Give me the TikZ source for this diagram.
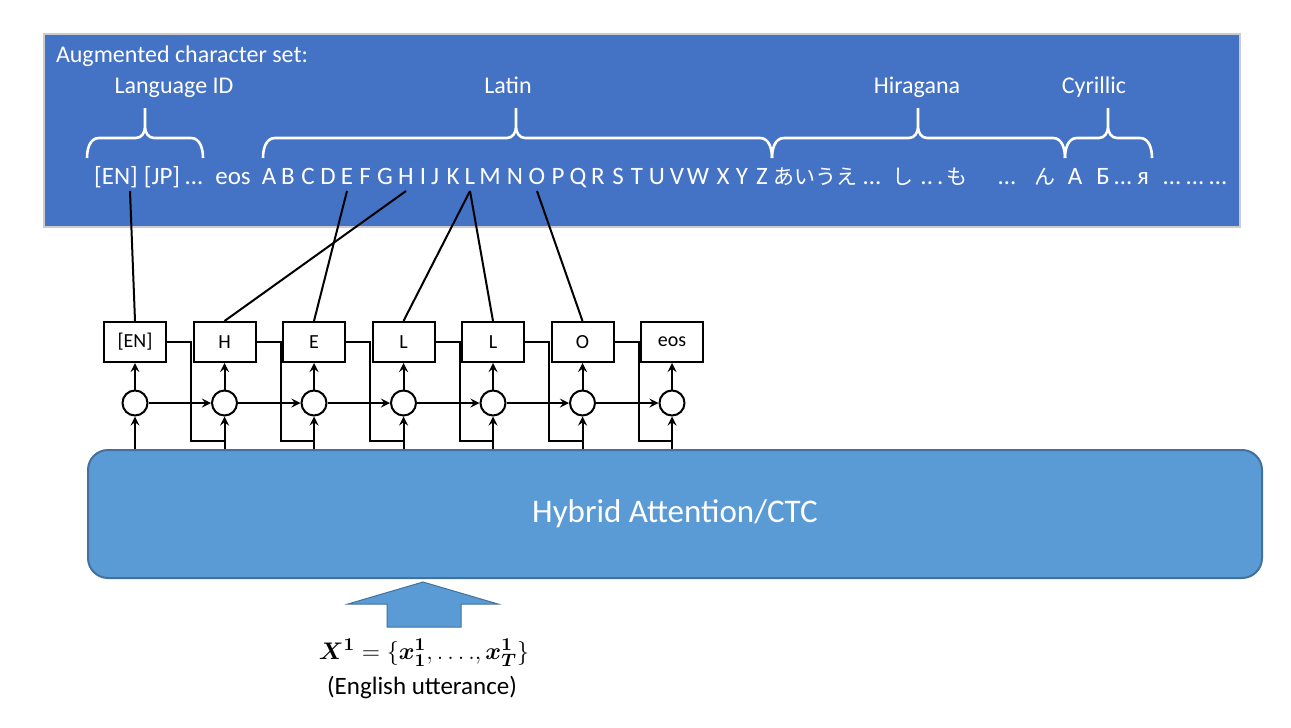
\documentclass[tikz,border=0pt]{standalone}
\usepackage{amsmath}
\usepackage{fontspec}
\setmainfont{Carlito}
\newfontfamily\jpfont{Noto Sans CJK JP}
\usetikzlibrary{calc}
\definecolor{setblue}{HTML}{4472C4}
\definecolor{encblue}{HTML}{5B9BD5}
\definecolor{encline}{HTML}{41719C}
\newcommand{\charbrace}[3]{%
  \draw[white, line width=1.3pt] (#1,-158) to[out=90,in=180] (#1+12,-138) -- (#3-9,-138) to[out=0,in=-90] (#3,-127) -- (#3,-108)
    (#3,-127) to[out=-90,in=180] (#3+9,-138) -- (#2-12,-138) to[out=0,in=90] (#2,-158);}
\newcommand{\uttform}{$\boldsymbol{X^{1}} = \{\boldsymbol{x^{1}_{1}}, \ldots., \boldsymbol{x^{1}_{T}}\}$}

\begin{document}
\begin{tikzpicture}[x=0.5pt,y=0.5pt,>=stealth,line width=1pt,
    chr/.style={text=white, font=\fontsize{12.5}{15}\selectfont, inner sep=3pt, anchor=base, text depth=0pt},
    kana/.style={chr, font=\jpfont\fontsize{10.5}{13}\selectfont},
    grp/.style={text=white, font=\fontsize{12}{14}\selectfont, anchor=base},
    tok/.style={draw, minimum width=31pt, minimum height=20pt, inner sep=0pt, font=\fontsize{10}{12}\selectfont},
    cell/.style={draw, circle, minimum size=12.5pt, inner sep=0pt}]
  \fill[white] (0,0) rectangle (1291,-728);

  \draw[fill=setblue, draw=black!20, line width=1pt] (44,-34) rectangle (1240,-227);
  \node[grp, anchor=base west, inner sep=0pt] (title) at (55,-62) {Augmented character set:};
  \node[grp] (langid) at (174,-93) {Language ID};
  \node[grp] (latin) at (508,-93) {Latin};
  \node[grp] (hira) at (917,-93) {Hiragana};
  \node[grp] (cyr) at (1094,-93) {Cyrillic};
  \charbrace{87}{203}{145}
  \charbrace{263}{772}{516}
  \charbrace{772}{1065}{918}
  \charbrace{1065}{1152}{1108}

  \node[chr] (en) at (116,-184) {[EN]};
  \node[chr] (jp) at (162,-184) {[JP]};
  \node[chr] (dots1) at (194,-184) {…};
  \node[chr] (eos) at (233,-184) {eos};
  \foreach \c/\x in {A/269,B/288,C/308,D/328,E/347,F/365,G/385,H/406,I/423,J/435,K/453,L/470,M/490,N/515,O/537,P/558,Q/578,R/598,S/618,T/637,U/657,V/677,W/698,X/723,Y/742,Z/762}
    \node[chr] (l\c) at (\x,-184) {\c};
  \node[kana] (aiue) at (815,-184) {あいうえ};
  \node[chr] (dots2) at (872,-184) {…};
  \node[kana] (shi) at (903,-184) {し};
  \node[chr] (dots3) at (932,-184) {..\,.};
  \node[kana] (mo) at (957,-184) {も};
  \node[chr] (dots4) at (1007,-184) {…};
  \node[kana] (nn) at (1045,-184) {ん};
  \node[chr] (cyrA) at (1075,-184) {А};
  \node[chr] (cyrB) at (1103,-184) {Б};
  \node[chr] (dots5) at (1123,-184) {…};
  \node[chr] (cyrya) at (1143,-184) {я};
  \node[chr] (dots6) at (1195,-184) {… … …};

  \node[draw=encline, fill=encblue, rounded corners=10pt, minimum width=587pt, minimum height=64pt,
        text=white, font=\fontsize{16.5}{20}\selectfont] (enc) at (675,-514) {Hybrid Attention/CTC};

  \foreach \t/\i in {{[EN]}/0,H/1,E/2,L/3,L/4,O/5,eos/6} {
    \node[tok] (b\i) at (135+89.5*\i,-342) {\t};
    \node[cell] (c\i) at (135+89.5*\i,-403) {};
    \draw[->] (c\i) -- (b\i);
    \draw[->] (c\i |- enc.north) -- (c\i);
  }
  \foreach \i [evaluate=\i as \j using int(\i+1)] in {0,...,5} {
    \draw[->] (c\i) -- (c\j);
    \draw (b\i.east) -- ++(24,0) |- ([yshift=-12pt]c\j.south);
  }

  \draw ([xshift=7pt]en.south) -- (b0.north);
  \draw (lH.south) -- (b1.north);
  \draw (lE.south) -- (b2.north);
  \draw (lL.south) -- (b3.north);
  \draw (lL.south) -- (b4.north);
  \draw (lO.south) -- (b5.north);

  \draw[fill=encblue, draw=encline, line width=0.5pt] (348,-604) -- (423,-582) -- (498,-604) -- (461,-604)
    -- (461,-627) -- (387,-627) -- (387,-604) -- cycle;
  \node[font=\fontsize{12.5}{15}\selectfont, inner sep=1pt] (xin) at (424,-653) {\uttform};
  \node[font=\fontsize{12.5}{15}\selectfont, inner sep=1pt] (utt) at (422,-687) {(English utterance)};
\end{tikzpicture}
\end{document}
